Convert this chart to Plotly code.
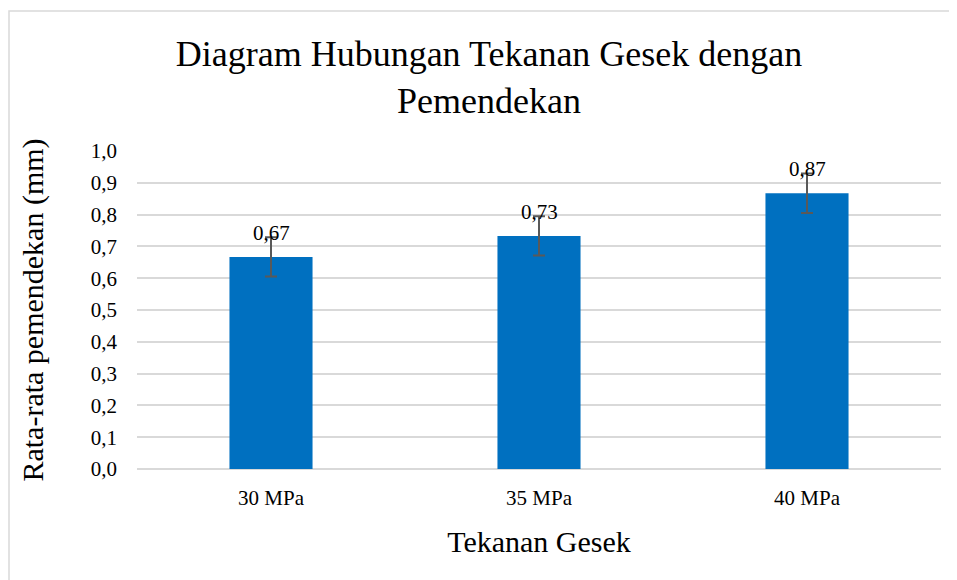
import plotly.graph_objects as go

categories = ["30 MPa", "35 MPa", "40 MPa"]
values = [0.667, 0.733, 0.867]
errors = [0.062, 0.062, 0.062]
y_ticks = [0.0, 0.1, 0.2, 0.3, 0.4, 0.5, 0.6, 0.7, 0.8, 0.9, 1.0]

FONT = "Liberation Serif"
OFF = 8  # page body margin
W, H = 957 - OFF, 580 - OFF
L, R, T, B = 137 - OFF, 16, 151 - OFF, 111
pw, ph = W - L - R, H - T - B

fig = go.Figure()
fig.add_trace(go.Bar(
    x=categories, y=values,
    marker=dict(color="#0070C0", line=dict(width=0)),
    error_y=dict(type="data", array=errors, visible=True,
                 color="#595959", thickness=2, width=6),
    hoverinfo="skip",
))

for c, v in zip(categories, values):
    fig.add_annotation(x=c, y=v, xref="x", yref="y",
                       text=f"{v:.2f}".replace(".", ","),
                       showarrow=False, yanchor="middle", yshift=24,
                       font=dict(family=FONT, size=21, color="#000000"))

# chart area border (decorative)
fig.add_shape(type="rect", xref="paper", yref="paper",
              x0=(1 - L) / pw, x1=(W + 5 - L) / pw,
              y0=(H - B - (H + 5)) / ph, y1=(H - B - 3) / ph,
              line=dict(color="#d9d9d9", width=1.5), fillcolor="rgba(0,0,0,0)",
              layer="below")

fig.update_layout(
    width=W, height=H,
    margin=dict(l=L, r=R, t=T, b=B),
    paper_bgcolor="white", plot_bgcolor="white",
    separators=",.",
    bargap=0.69,
    showlegend=False,
    title=dict(text="Diagram Hubungan Tekanan Gesek dengan<br>Pemendekan",
               x=(489 - OFF) / W, xref="container", xanchor="center",
               y=1 - 58 / H, yref="container", yanchor="top",
               font=dict(family=FONT, size=36, color="#000000")),
    xaxis=dict(
        showgrid=False, showline=False, zeroline=False,
        tickfont=dict(family=FONT, size=21, color="#000000"),
        ticklabelstandoff=14,
        title=dict(text="Tekanan Gesek", standoff=21,
                   font=dict(family=FONT, size=30, color="#000000")),
    ),
    yaxis=dict(
        range=[0, 1.0], tickvals=y_ticks, tickformat=".1f",
        showgrid=True, gridcolor="#d9d9d9", gridwidth=2,
        zeroline=True, zerolinecolor="#d9d9d9", zerolinewidth=2,
        showline=False,
        tickfont=dict(family=FONT, size=21, color="#000000"),
        ticklabelstandoff=19,
        title=dict(text="Rata-rata pemendekan (mm)", standoff=38,
                   font=dict(family=FONT, size=30, color="#000000")),
    ),
)

fig.write_html("out.html")
